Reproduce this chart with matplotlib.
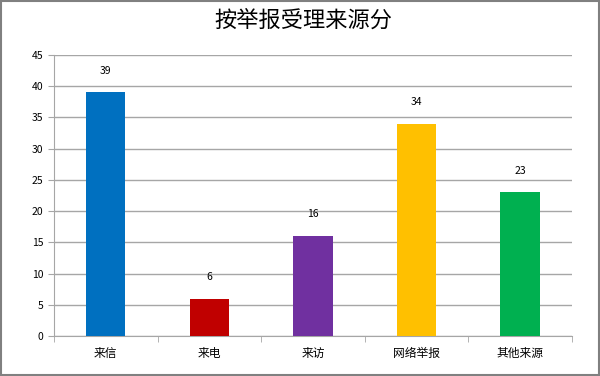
import matplotlib.pyplot as plt
import numpy as np

plt.rcParams['font.family'] = ['Noto Sans CJK SC', 'DejaVu Sans']

categories = ['来信', '来电', '来访', '网络举报', '其他来源']
values = [39, 6, 16, 34, 23]
colors = ['#0070C0', '#C00000', '#7030A0', '#FFC000', '#00B050']


def main():
    fig = plt.figure(figsize=(6, 3.76), dpi=100)
    ax = fig.add_axes([0.09, 0.106, 0.863, 0.748])

    x = np.arange(len(categories))
    bars = ax.bar(x, values, width=0.38, color=colors, zorder=3)
    for b, v in zip(bars, values):
        ax.annotate(str(v), (b.get_x() + b.get_width() / 2, v), xytext=(0, 12),
                    textcoords='offset points', ha='center', va='bottom', fontsize=7.5)

    ax.set_xlim(-0.5, len(categories) - 0.5)
    ax.set_ylim(0, 45)
    ax.set_yticks(range(0, 46, 5))
    ax.yaxis.grid(True, color='#A6A6A6', linewidth=1, zorder=0)

    ax.set_xticks(x)
    ax.set_xticklabels(categories, fontsize=8.5)
    ax.set_xticks(np.arange(-0.5, len(categories)), minor=True)
    ax.tick_params(axis='x', which='major', length=0, pad=8)
    ax.tick_params(axis='x', which='minor', length=4, color='#A6A6A6')
    ax.tick_params(axis='y', length=4, color='#A6A6A6', labelsize=7.5)

    for s in ['top', 'right']:
        ax.spines[s].set_visible(False)
    for s in ['left', 'bottom']:
        ax.spines[s].set_color('#A6A6A6')

    fig.text(0.505, 0.945, '按举报受理来源分', ha='center', va='center',
             fontsize=16, fontweight='medium')

    border = plt.Rectangle((0.001, 0.002), 0.997, 0.996, transform=fig.transFigure,
                           fill=False, edgecolor='#808080', linewidth=1.5)
    fig.patches.append(border)

    plt.savefig('out.png')


if __name__ == "__main__":
    main()
